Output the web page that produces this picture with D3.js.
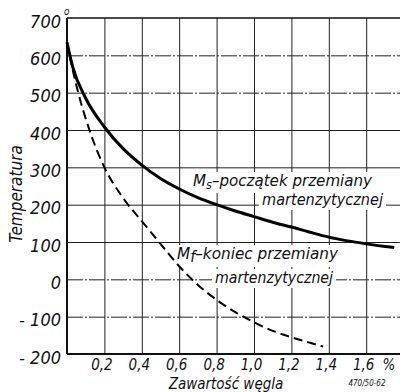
<!DOCTYPE html>
<html>
<head>
<meta charset="utf-8">
<script src="https://cdn.jsdelivr.net/npm/d3@7"></script>
<style>
  html, body { margin: 0; padding: 0; background: #fff; overflow: hidden; }
  svg { display: block; }
  text { font-family: "DejaVu Sans Condensed", "DejaVu Sans", sans-serif; font-stretch: condensed; font-style: italic; fill: #111; }
</style>
</head>
<body>
<svg id="chart" width="400" height="392"></svg>
<script>
// ---- data ----
const xTicks = [0.2, 0.4, 0.6, 0.8, 1.0, 1.2, 1.4, 1.6];
const xTickLabels = ["0,2", "0,4", "0,6", "0,8", "1,0", "1,2", "1,4", "1,6"];
const xGrid = [0.2, 0.4, 0.6, 0.8, 1.0, 1.2, 1.4, 1.6, 1.8];
const yTicks = [700, 600, 500, 400, 300, 200, 100, 0, -100, -200];
const yTickLabels = ["700", "600", "500", "400", "300", "200", "100", "0", "- 100", "- 200"];
const yGrid = [600, 500, 400, 300, 200, 100, 0, -100];

// Ms - start of martensitic transformation
const msCarbon = [0, 0.03, 0.1, 0.2, 0.3, 0.4, 0.5, 0.6, 0.7, 0.8, 0.9, 1.0, 1.1, 1.2, 1.3, 1.4, 1.5, 1.6, 1.75];
const msTemp   = [635, 570, 485, 408, 350, 306, 270, 242, 219, 200, 183, 168, 153, 140, 126, 113, 103, 95, 85];
// Mf - end of martensitic transformation
const mfCarbon = [0, 0.02, 0.06, 0.12, 0.2, 0.3, 0.4, 0.5, 0.6, 0.7, 0.8, 0.9, 1.0, 1.1, 1.2, 1.3, 1.37];
const mfTemp   = [635, 585, 500, 400, 300, 218, 156, 95, 35, -15, -55, -88, -115, -138, -155, -170, -180];

const xTitle = "Zawartość węgla";
const yTitle = "Temperatura";
const msLabel = ["–początek przemiany", "martenzytycznej"];
const mfLabel = ["–koniec przemiany", "martenzytycznej"];
const refCode = "470/50-62";

// ---- layout ----
const svg = d3.select("#chart");
const x = d3.scaleLinear().domain([0, 1.8]).range([67, 403.6]);
const y = d3.scaleLinear().domain([-200, 700]).range([354, 18]);

// grid
const gGrid = svg.append("g");
gGrid.append("g")
  .attr("transform", `translate(0,${y(-200)})`)
  .call(d3.axisBottom(x).tickValues(xGrid).tickSize(-(y(-200) - y(700))).tickFormat(""))
  .call(g => g.select(".domain").remove())
  .call(g => g.selectAll("line").attr("stroke", "#222").attr("stroke-width", 1));
gGrid.append("g")
  .attr("transform", `translate(${x(0)},0)`)
  .call(d3.axisLeft(y).tickValues(yGrid).tickSize(-(400 - x(0))).tickFormat(""))
  .call(g => g.select(".domain").remove())
  .call(g => g.selectAll("line").attr("stroke", "#222").attr("stroke-width", 1)
     .attr("stroke-dasharray", d => (d === 600 || d === 500 || d === 0 || d === -100) ? "16,2,2,2" : null));

// frame lines
svg.append("line").attr("x1", x(0)).attr("x2", 400).attr("y1", y(700)).attr("y2", y(700)).attr("stroke", "#111").attr("stroke-width", 1.6);
svg.append("line").attr("x1", x(0)).attr("x2", 400).attr("y1", y(-200)).attr("y2", y(-200)).attr("stroke", "#111").attr("stroke-width", 2);
svg.append("line").attr("x1", x(0)).attr("x2", x(0)).attr("y1", y(700)).attr("y2", y(-200)).attr("stroke", "#111").attr("stroke-width", 2);

// y tick labels
svg.append("g")
  .attr("transform", `translate(${x(0)},0)`)
  .call(d3.axisLeft(y).tickValues(yTicks).tickSize(0).tickPadding(6).tickFormat((d, i) => yTickLabels[i]))
  .call(g => g.select(".domain").remove())
  .call(g => g.selectAll("text").attr("dy", "0.5em").attr("font-size", 18).attr("fill", "#111")
      .attr("font-family", null));
// degree sign on 700
svg.append("text").attr("x", x(0) - 3).attr("y", y(700) - 3).attr("font-size", 10).text("o");

// x tick labels
svg.append("g")
  .attr("transform", `translate(0,${y(-200)})`)
  .call(d3.axisBottom(x).tickValues(xTicks).tickSize(0).tickPadding(0).tickFormat((d, i) => xTickLabels[i]))
  .call(g => g.select(".domain").remove())
  .call(g => g.selectAll("text").attr("y", 16).attr("dy", 0).attr("dx", -3).attr("font-size", 15).attr("fill", "#111")
      .attr("font-family", null));
svg.append("text").attr("x", 389).attr("y", y(-200) + 16).attr("text-anchor", "middle").attr("font-size", 15).text("%");

// axis titles
svg.append("text").attr("x", 226).attr("y", 389).attr("text-anchor", "middle").attr("font-size", 15).text(xTitle);
svg.append("text").attr("transform", "translate(22,194) rotate(-90)").attr("text-anchor", "middle").attr("font-size", 17).text(yTitle);
svg.append("text").attr("x", 367).attr("y", 386).attr("text-anchor", "middle").attr("font-size", 8).attr("font-style", "normal").text(refCode);

// labels with white background
const gBg = svg.append("g");
const gLabels = svg.append("g");
function label(x0, yb, len, main, sub, subSize, rest) {
  const t = gLabels.append("text").attr("x", x0).attr("y", yb).attr("font-size", 16);
  if (main) t.append("tspan").text(main);
  if (sub) t.append("tspan").attr("font-size", subSize).attr("dy", 3).text(sub);
  const r = t.append("tspan");
  if (sub) r.attr("dy", -3);
  r.text(rest);
  t.attr("textLength", len).attr("lengthAdjust", "spacingAndGlyphs");
  const b = t.node().getBBox();
  gBg.append("rect").attr("x", b.x - 3).attr("y", b.y + 1).attr("width", b.width + 6).attr("height", b.height)
    .attr("fill", "#fff");
  return t;
}
label(193, 186, 179, "M", "s", 12, msLabel[0]);
label(262, 205, 121, null, null, 0, msLabel[1]);
label(177, 259, 161, "M", "f", 15, mfLabel[0]);
label(215, 283, 118, null, null, 0, mfLabel[1]);

// curves
const line = d3.line().x(d => x(d[0])).y(d => y(d[1])).curve(d3.curveMonotoneX);
svg.append("path").datum(msCarbon.map((c, i) => [c, msTemp[i]]))
  .attr("d", line).attr("fill", "none").attr("stroke", "#000").attr("stroke-width", 3);
svg.append("path").datum(mfCarbon.map((c, i) => [c, mfTemp[i]]))
  .attr("d", line).attr("fill", "none").attr("stroke", "#000").attr("stroke-width", 2)
  .attr("stroke-dasharray", "9,5");
</script>
</body>
</html>
